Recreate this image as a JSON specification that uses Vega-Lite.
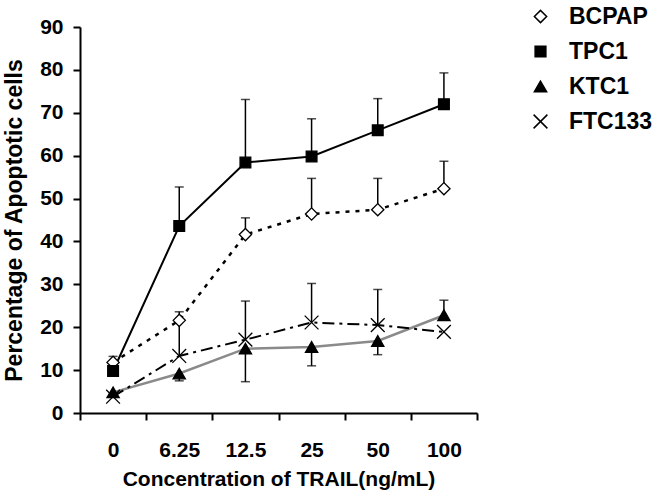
{
  "$schema": "https://vega.github.io/schema/vega-lite/v6.json",
  "autosize": "none",
  "width": 397,
  "height": 386,
  "padding": {"left": 80, "top": 27, "right": 183, "bottom": 80},
  "background": "white",
  "config": {
    "view": {"stroke": null},
    "font": "Liberation Sans",
    "axis": {
      "domainColor": "black", "domainWidth": 2, "tickColor": "black", "tickWidth": 2, "tickSize": 7,
      "labelFont": "Liberation Sans", "labelFontWeight": "bold", "labelFontSize": 21, "labelColor": "black",
      "titleFont": "Liberation Sans", "titleFontWeight": "bold", "titleColor": "black", "grid": false
    },
    "legend": {
      "labelFont": "Liberation Sans", "labelFontWeight": "bold", "labelFontSize": 23, "labelColor": "black",
      "title": null, "orient": "none", "legendX": 449, "legendY": -22, "rowPadding": 11, "labelOffset": 17, "padding": 0
    }
  },
  "data": {"values": [
    {"series": "BCPAP", "conc": "0", "value": 11.8, "err": 13.2},
    {"series": "BCPAP", "conc": "6.25", "value": 21.6, "err": 23.6},
    {"series": "BCPAP", "conc": "12.5", "value": 41.6, "err": 45.5},
    {"series": "BCPAP", "conc": "25", "value": 46.4, "err": 54.7},
    {"series": "BCPAP", "conc": "50", "value": 47.4, "err": 54.7},
    {"series": "BCPAP", "conc": "100", "value": 52.3, "err": 58.7},
    {"series": "TPC1", "conc": "0", "value": 9.8, "err": null},
    {"series": "TPC1", "conc": "6.25", "value": 43.6, "err": 52.7},
    {"series": "TPC1", "conc": "12.5", "value": 58.4, "err": 73.1},
    {"series": "TPC1", "conc": "25", "value": 59.8, "err": 68.6},
    {"series": "TPC1", "conc": "50", "value": 65.9, "err": 73.3},
    {"series": "TPC1", "conc": "100", "value": 72.0, "err": 79.3},
    {"series": "KTC1", "conc": "0", "value": 4.8, "err": null},
    {"series": "KTC1", "conc": "6.25", "value": 9.2, "err": 7.5},
    {"series": "KTC1", "conc": "12.5", "value": 15.0, "err": 7.3},
    {"series": "KTC1", "conc": "25", "value": 15.4, "err": 11.0},
    {"series": "KTC1", "conc": "50", "value": 16.8, "err": 13.6},
    {"series": "KTC1", "conc": "100", "value": 22.8, "err": 26.3},
    {"series": "FTC133", "conc": "0", "value": 3.8, "err": null},
    {"series": "FTC133", "conc": "6.25", "value": 13.3, "err": 21.6},
    {"series": "FTC133", "conc": "12.5", "value": 17.1, "err": 26.1},
    {"series": "FTC133", "conc": "25", "value": 21.1, "err": 30.2},
    {"series": "FTC133", "conc": "50", "value": 20.5, "err": 28.8},
    {"series": "FTC133", "conc": "100", "value": 18.9, "err": null}
  ]},
  "encoding": {
    "x": {
      "field": "conc", "type": "ordinal",
      "sort": ["0", "6.25", "12.5", "25", "50", "100"],
      "scale": {"type": "band", "paddingInner": 0, "paddingOuter": 0},
      "axis": {"title": "Concentration of TRAIL(ng/mL)", "labelAngle": 0, "tickBand": "extent", "labelPadding": 19, "titleFontSize": 21, "titlePadding": 8}
    },
    "y": {"field": "value", "type": "quantitative", "scale": {"domain": [0, 90], "nice": false},
          "axis": {"title": "Percentage of Apoptotic cells", "values": [0,10,20,30,40,50,60,70,80,90], "labelPadding": 10, "titleFontSize": 23, "titlePadding": 13}}
  },
  "layer": [
    {
      "transform": [{"filter": "datum.series == 'BCPAP'"}],
      "mark": {"type": "line", "color": "black", "strokeWidth": 2.5, "strokeDash": [4, 6]}
    },
    {
      "transform": [{"filter": "datum.series == 'TPC1'"}],
      "mark": {"type": "line", "color": "black", "strokeWidth": 2}
    },
    {
      "transform": [{"filter": "datum.series == 'KTC1'"}],
      "mark": {"type": "line", "color": "#8a8a8a", "strokeWidth": 2.5}
    },
    {
      "transform": [{"filter": "datum.series == 'FTC133'"}],
      "mark": {"type": "line", "color": "black", "strokeWidth": 2, "strokeDash": [12, 5, 3, 5]}
    },
    {
      "transform": [{"filter": "datum.err != null"}],
      "mark": {"type": "rule", "color": "black", "strokeWidth": 1.5},
      "encoding": {
        "y2": {"field": "err"}
      }
    },
    {
      "transform": [{"filter": "datum.err != null"}],
      "mark": {"type": "tick", "color": "black", "size": 9, "thickness": 1.5},
      "encoding": {
        "y": {"field": "err", "type": "quantitative"}
      }
    },
    {
      "mark": {"type": "point", "filled": true, "stroke": "black", "strokeWidth": 1.3, "opacity": 1},
      "encoding": {
        "shape": {"field": "series", "type": "nominal",
                  "scale": {"domain": ["BCPAP", "TPC1", "KTC1", "FTC133"], "range": ["diamond", "square", "triangle-up", "M-1,-1L1,1M-1,1L1,-1"]},
                  "legend": {"encode": {"symbols": {"update": {"stroke": {"value": "black"}, "strokeWidth": {"value": 1.3}}}}}},
        "fill": {"field": "series", "type": "nominal",
                 "scale": {"domain": ["BCPAP", "TPC1", "KTC1", "FTC133"], "range": ["white", "black", "black", "transparent"]},
                 "legend": {"encode": {"symbols": {"update": {"stroke": {"value": "black"}, "strokeWidth": {"value": 1.3}}}}}},
        "size": {"field": "series", "type": "ordinal",
                 "scale": {"type": "ordinal", "domain": ["BCPAP", "TPC1", "KTC1", "FTC133"], "range": [150, 115, 150, 190]},
                 "legend": {"encode": {"symbols": {"update": {"stroke": {"value": "black"}, "strokeWidth": {"value": 1.3}}}}}}
      }
    }
  ]
}
